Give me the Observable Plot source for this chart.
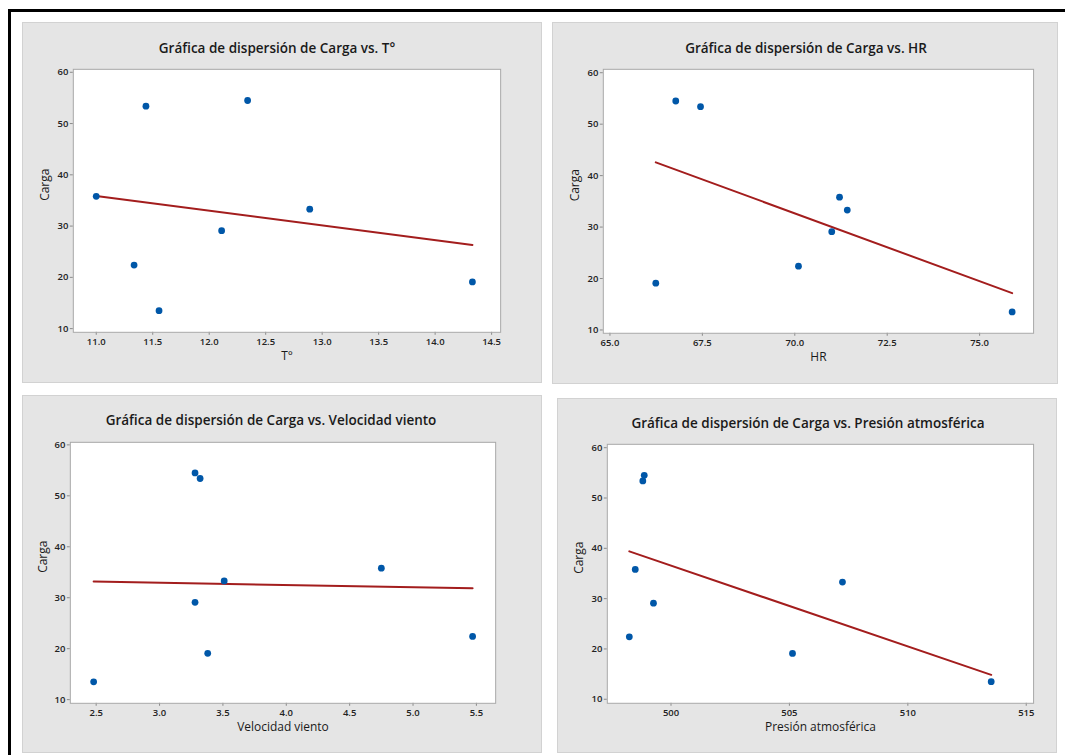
<!DOCTYPE html>
<html>
<head>
<meta charset="utf-8">
<script src="https://cdn.jsdelivr.net/npm/d3@7"></script>
<script src="https://cdn.jsdelivr.net/npm/@observablehq/plot@0.6"></script>
<style>
  html, body { margin: 0; padding: 0; background: #ffffff; overflow: hidden; }
  body { width: 1065px; height: 755px; position: relative; font-family: "Open Sans", sans-serif; }
  #outer { position: absolute; left: 8px; top: 9px; width: 1080px; height: 780px; border-top: 3px solid #000; border-left: 3px solid #000; box-sizing: border-box; }
  .panel { position: absolute; background: #e5e5e5; border: 1px solid #d2d2d2; box-sizing: border-box; }
  .panel svg { position: absolute; left: 0; top: 0; }
  .title { position: absolute; white-space: nowrap; transform: translate(-50%, -50%); font-size: 13.5px; font-weight: 600; color: #1a1a1a; }
</style>
</head>
<body>
<div id="outer"></div>
<script>
// ---- data: the same 8 observations in each panel ----
const carga       = [35.8, 53.4, 54.5, 22.4, 13.5, 29.1, 33.3, 19.1];
const temperatura = [11.0, 11.44, 12.34, 11.335, 11.556, 12.11, 12.89, 14.33];
const humedad     = [71.21, 67.45, 66.78, 70.10, 75.88, 71.0, 71.42, 66.24];
const viento      = [4.75, 3.32, 3.28, 5.47, 2.48, 3.28, 3.51, 3.38];
const presion     = [498.49, 498.81, 498.87, 498.24, 513.52, 499.26, 507.24, 505.13];

// ---- tick labels ----
const yTicks     = [10, 20, 30, 40, 50, 60];
const tempTicks  = [11.0, 11.5, 12.0, 12.5, 13.0, 13.5, 14.0, 14.5];
const hrTicks    = [65.0, 67.5, 70.0, 72.5, 75.0];
const vienTicks  = [2.5, 3.0, 3.5, 4.0, 4.5, 5.0, 5.5];
const presTicks  = [500, 505, 510, 515];

const titles = [
  "Gráfica de dispersión de Carga vs. T°",
  "Gráfica de dispersión de Carga vs. HR",
  "Gráfica de dispersión de Carga vs. Velocidad viento",
  "Gráfica de dispersión de Carga vs. Presión atmosférica"
];
const xLabels = ["T°", "HR", "Velocidad viento", "Presión atmosférica"];
const yLabel = "Carga";

const FONT = "'Open Sans', sans-serif";

function makePanel(cfg) {
  const div = document.createElement("div");
  div.className = "panel";
  div.style.left = cfg.box[0] + "px";
  div.style.top = cfg.box[1] + "px";
  div.style.width = cfg.box[2] + "px";
  div.style.height = cfg.box[3] + "px";
  document.body.appendChild(div);

  const rows = carga.map((c, i) => ({x: cfg.xs[i], y: c}));

  const chart = Plot.plot({
    width: cfg.box[2],
    height: cfg.box[3],
    marginLeft: cfg.m[0], marginRight: cfg.m[1], marginTop: cfg.m[2], marginBottom: cfg.m[3],
    style: {background: "transparent", fontFamily: FONT, color: "#222"},
    x: {domain: cfg.xDomain},
    y: {domain: cfg.yDomain},
    marks: [
      Plot.frame({fill: "white"}),
      Plot.axisY({ticks: yTicks, tickSize: 3, tickPadding: 2, stroke: "#8a8a8a", fill: "#222",
                  fontSize: 9.5, fontWeight: 600, label: null}),
      Plot.axisX({ticks: cfg.xTicks, tickFormat: cfg.fmt, tickSize: 3, tickPadding: 3, stroke: "#8a8a8a", fill: "#222",
                  fontSize: 9.5, fontWeight: 600, label: null}),
      Plot.linearRegressionY(rows, {x: "x", y: "y", ci: 0, stroke: "#a31d1d", strokeWidth: 2}),
      Plot.dot(rows, {x: "x", y: "y", r: 3.4, fill: "#0057a8", stroke: "none"}),
      Plot.frame({stroke: "#a8a8a8"}),
      Plot.text([cfg.xLabel], {text: d => d, frameAnchor: "bottom", dy: 28, fontSize: 12, fill: "#1a1a1a"}),
      Plot.text([yLabel], {text: d => d, frameAnchor: "left", dx: cfg.ydx, rotate: -90, fontSize: 12, fill: "#1a1a1a"})
    ]
  });
  div.appendChild(chart);

  const t = document.createElement("div");
  t.className = "title";
  t.textContent = cfg.title;
  t.style.left = (cfg.titlePos[0] - cfg.box[0]) + "px";
  t.style.top = (cfg.titlePos[1] - cfg.box[1]) + "px";
  div.appendChild(t);
}

makePanel({
  box: [22, 22, 520, 361], m: [50, 41, 46, 51],
  xs: temperatura, xDomain: [10.797, 14.58], yDomain: [9.28, 60.58],
  xTicks: tempTicks, fmt: d3.format(".1f"), xLabel: xLabels[0], ydx: -28,
  title: titles[0], titlePos: [276, 47]
});
makePanel({
  box: [552, 22, 506, 362], m: [50, 24, 46, 51],
  xs: humedad, xDomain: [64.82, 76.46], yDomain: [9.36, 60.66],
  xTicks: hrTicks, fmt: d3.format(".1f"), xLabel: xLabels[1], ydx: -28,
  title: titles[1], titlePos: [805, 47]
});
makePanel({
  box: [22, 395, 520, 358], m: [47, 46, 46, 50],
  xs: viento, xDomain: [2.296, 5.652], yDomain: [9.28, 60.5],
  xTicks: vienTicks, fmt: d3.format(".1f"), xLabel: xLabels[2], ydx: -27,
  title: titles[2], titlePos: [270, 419]
});
makePanel({
  box: [557, 398, 500, 355], m: [49, 23, 45, 50],
  xs: presion, xDomain: [497.31, 515.31], yDomain: [9.2, 60.67],
  xTicks: presTicks, fmt: d3.format("d"), xLabel: xLabels[3], ydx: -28,
  title: titles[3], titlePos: [807, 422]
});
</script>
</body>
</html>
